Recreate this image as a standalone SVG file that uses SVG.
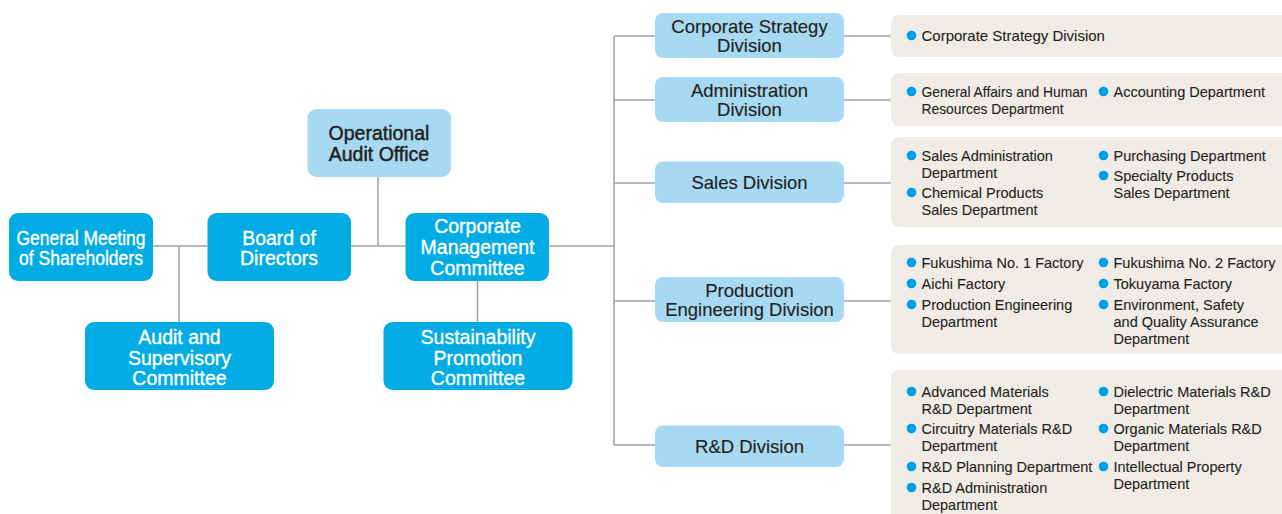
<svg xmlns="http://www.w3.org/2000/svg" width="1282" height="514" viewBox="0 0 1282 514">
<style>
.conn{stroke:#a3a3a3;stroke-width:1.6;fill:none}
.dk{fill:#00ace3}
.lt{fill:#a8d9f3}
.gb{fill:#efebe5}
.wt{font-family:"Liberation Sans",Arial,sans-serif;font-size:19.5px;fill:#ffffff;stroke:#ffffff;stroke-width:0.35;text-anchor:middle}
.dt{font-family:"Liberation Sans",Arial,sans-serif;font-size:18.5px;fill:#231f20;stroke:#231f20;stroke-width:0.15;text-anchor:middle}
.ot{font-family:"Liberation Sans",Arial,sans-serif;font-size:19.5px;fill:#231f20;stroke:#231f20;stroke-width:0.45;text-anchor:middle}
.bt{font-family:"Liberation Sans",Arial,sans-serif;font-size:14.5px;fill:#231f20;stroke:#231f20;stroke-width:0.1}
.bu{fill:#00a0e4}
</style>
<rect width="1282" height="514" fill="#ffffff"/>
<g id="connectors">
<path class="conn" d="M153 246H207.5M351 246H405.5M179 246V322M378 177V246M477.5 281V322M549 246H614M614 36V445M614 36H655M614 100H655M614 183H655M614 301H655M614 445H655M844 36H891M844 100H891M844 183H891M844 301H891M844 445H891"/>
</g>
<g id="general-meeting">
<rect class="dk" x="9" y="213" width="144" height="68" rx="9"/>
<text class="wt" x="81" y="245" textLength="129" lengthAdjust="spacingAndGlyphs">General Meeting</text>
<text class="wt" x="81" y="265" textLength="124" lengthAdjust="spacingAndGlyphs">of Shareholders</text>
</g>
<g id="board">
<rect class="dk" x="207.5" y="213" width="143.5" height="68" rx="9"/>
<text class="wt" x="279" y="245">Board of</text>
<text class="wt" x="279" y="265">Directors</text>
</g>
<g id="audit-office">
<rect class="lt" x="307.5" y="109" width="143.5" height="68" rx="9"/>
<text class="ot" x="379" y="140">Operational</text>
<text class="ot" x="379" y="160.5">Audit Office</text>
</g>
<g id="corp-mgmt">
<rect class="dk" x="405.5" y="213" width="143.5" height="68" rx="9"/>
<text class="wt" x="477.5" y="233">Corporate</text>
<text class="wt" x="477.5" y="254">Management</text>
<text class="wt" x="477.5" y="274.5">Committee</text>
</g>
<g id="audit-supervisory">
<rect class="dk" x="85" y="322" width="189" height="68" rx="9"/>
<text class="wt" x="179.5" y="343.5">Audit and</text>
<text class="wt" x="179.5" y="364.5">Supervisory</text>
<text class="wt" x="179.5" y="385">Committee</text>
</g>
<g id="sustainability">
<rect class="dk" x="383.5" y="322" width="189" height="68" rx="9"/>
<text class="wt" x="478" y="343.5">Sustainability</text>
<text class="wt" x="478" y="364.5">Promotion</text>
<text class="wt" x="478" y="385">Committee</text>
</g>
<g id="div-corp-strategy">
<rect class="lt" x="655" y="13" width="189" height="45" rx="8"/>
<text class="dt" x="749.5" y="33">Corporate Strategy</text>
<text class="dt" x="749.5" y="52">Division</text>
</g>
<g id="div-admin">
<rect class="lt" x="655" y="77" width="189" height="45" rx="8"/>
<text class="dt" x="749.5" y="97">Administration</text>
<text class="dt" x="749.5" y="116">Division</text>
</g>
<g id="div-sales">
<rect class="lt" x="655" y="161.5" width="189" height="41.5" rx="8"/>
<text class="dt" x="749.5" y="189">Sales Division</text>
</g>
<g id="div-production">
<rect class="lt" x="655" y="277" width="189" height="45" rx="8"/>
<text class="dt" x="749.5" y="296.5">Production</text>
<text class="dt" x="749.5" y="315.5">Engineering Division</text>
</g>
<g id="div-rd">
<rect class="lt" x="655" y="425.5" width="189" height="41.5" rx="8"/>
<text class="dt" x="749.5" y="453">R&amp;D Division</text>
</g>
<g id="list-corp-strategy">
<rect class="gb" x="891" y="15" width="400" height="42" rx="8"/>
<circle class="bu" cx="911.5" cy="35.5" r="4.8"/>
<text class="bt" x="921.5" y="40.5" style="font-size:15px">Corporate Strategy Division</text>
</g>
<g id="list-admin">
<rect class="gb" x="891" y="73" width="400" height="53" rx="8"/>
<circle class="bu" cx="911.5" cy="91.5" r="4.8"/>
<text class="bt" x="921.5" y="96.5" textLength="166" lengthAdjust="spacingAndGlyphs">General Affairs and Human</text>
<text class="bt" x="921.5" y="113.5" textLength="142" lengthAdjust="spacingAndGlyphs">Resources Department</text>
<circle class="bu" cx="1103.5" cy="91.5" r="4.8"/>
<text class="bt" x="1113.5" y="96.5">Accounting Department</text>
</g>
<g id="list-sales">
<rect class="gb" x="891" y="137" width="400" height="90" rx="8"/>
<circle class="bu" cx="911.5" cy="155.5" r="4.8"/>
<text class="bt" x="921.5" y="160.5">Sales Administration</text>
<text class="bt" x="921.5" y="177.5">Department</text>
<circle class="bu" cx="911.5" cy="192.5" r="4.8"/>
<text class="bt" x="921.5" y="197.5">Chemical Products</text>
<text class="bt" x="921.5" y="214.5">Sales Department</text>
<circle class="bu" cx="1103.5" cy="155.5" r="4.8"/>
<text class="bt" x="1113.5" y="160.5">Purchasing Department</text>
<circle class="bu" cx="1103.5" cy="175.5" r="4.8"/>
<text class="bt" x="1113.5" y="180.5">Specialty Products</text>
<text class="bt" x="1113.5" y="197.5">Sales Department</text>
</g>
<g id="list-production">
<rect class="gb" x="891" y="245" width="400" height="109" rx="8"/>
<circle class="bu" cx="911.5" cy="262.5" r="4.8"/>
<text class="bt" x="921.5" y="267.5">Fukushima No. 1 Factory</text>
<circle class="bu" cx="911.5" cy="283.5" r="4.8"/>
<text class="bt" x="921.5" y="288.5">Aichi Factory</text>
<circle class="bu" cx="911.5" cy="304.5" r="4.8"/>
<text class="bt" x="921.5" y="309.5">Production Engineering</text>
<text class="bt" x="921.5" y="326.5">Department</text>
<circle class="bu" cx="1103.5" cy="262.5" r="4.8"/>
<text class="bt" x="1113.5" y="267.5">Fukushima No. 2 Factory</text>
<circle class="bu" cx="1103.5" cy="283.5" r="4.8"/>
<text class="bt" x="1113.5" y="288.5">Tokuyama Factory</text>
<circle class="bu" cx="1103.5" cy="304.5" r="4.8"/>
<text class="bt" x="1113.5" y="309.5">Environment, Safety</text>
<text class="bt" x="1113.5" y="326.5">and Quality Assurance</text>
<text class="bt" x="1113.5" y="343.5">Department</text>
</g>
<g id="list-rd">
<rect class="gb" x="891" y="370" width="400" height="160" rx="8"/>
<circle class="bu" cx="911.5" cy="391.5" r="4.8"/>
<text class="bt" x="921.5" y="396.5">Advanced Materials</text>
<text class="bt" x="921.5" y="413.5">R&amp;D Department</text>
<circle class="bu" cx="911.5" cy="428.5" r="4.8"/>
<text class="bt" x="921.5" y="433.5">Circuitry Materials R&amp;D</text>
<text class="bt" x="921.5" y="450.5">Department</text>
<circle class="bu" cx="911.5" cy="466.5" r="4.8"/>
<text class="bt" x="921.5" y="471.5">R&amp;D Planning Department</text>
<circle class="bu" cx="911.5" cy="487.5" r="4.8"/>
<text class="bt" x="921.5" y="492.5">R&amp;D Administration</text>
<text class="bt" x="921.5" y="509.5">Department</text>
<circle class="bu" cx="1103.5" cy="391.5" r="4.8"/>
<text class="bt" x="1113.5" y="396.5">Dielectric Materials R&amp;D</text>
<text class="bt" x="1113.5" y="413.5">Department</text>
<circle class="bu" cx="1103.5" cy="428.5" r="4.8"/>
<text class="bt" x="1113.5" y="433.5">Organic Materials R&amp;D</text>
<text class="bt" x="1113.5" y="450.5">Department</text>
<circle class="bu" cx="1103.5" cy="466.5" r="4.8"/>
<text class="bt" x="1113.5" y="471.5">Intellectual Property</text>
<text class="bt" x="1113.5" y="488.5">Department</text>
</g>
</svg>
